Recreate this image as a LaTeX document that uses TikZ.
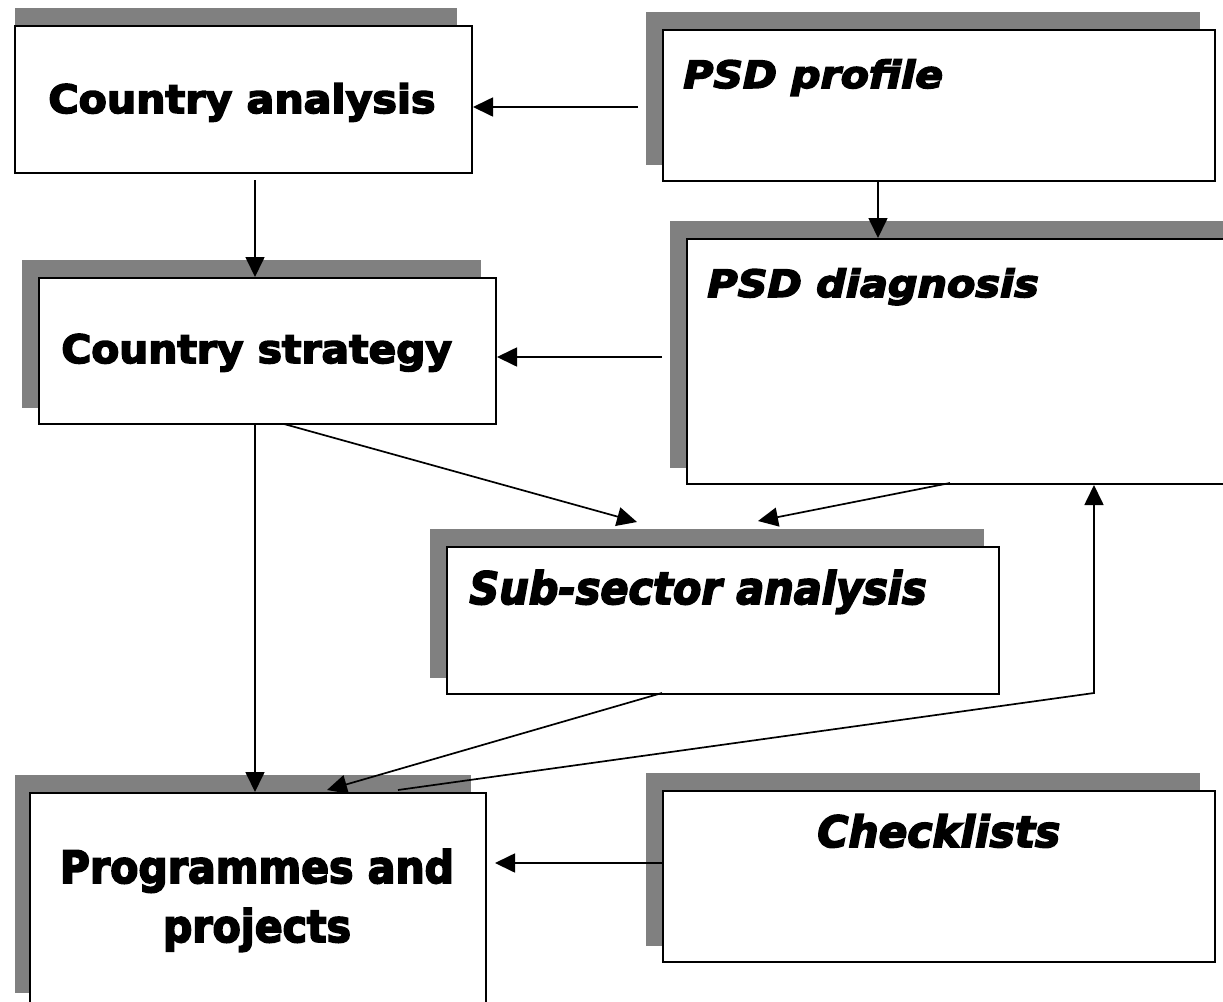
\documentclass[tikz,border=0pt]{standalone}
\usepackage{xcolor}
\usepackage{tikz}
\usepackage{graphicx}
\usepackage{fontspec}
\usetikzlibrary{arrows.meta,backgrounds}
\newfontfamily\heavyfont{DejaVu Sans}[FakeBold=4]
\definecolor{shadowgray}{RGB}{128,128,128}

\begin{document}
\begin{tikzpicture}[x=0.5pt, y=-0.5pt,
  box/.style={draw, fill=white, line width=1pt, inner sep=0, anchor=north west},
  arr/.style={line width=0.85pt, -{Triangle[length=10pt,width=9.5pt]}},
  uptext/.style={inner sep=0, anchor=base west, font=\heavyfont\bfseries\fontsize{19.6}{22}\selectfont},
  slanttext/.style={inner sep=0, anchor=base west, font=\heavyfont\bfseries\itshape\fontsize{18.8}{22}\selectfont},
  largetext/.style={font=\heavyfont\bfseries\fontsize{22.3}{29.5}\selectfont},
  largeslant/.style={font=\heavyfont\bfseries\itshape\fontsize{22.3}{26}\selectfont},
  listslant/.style={font=\heavyfont\bfseries\itshape\fontsize{21.6}{25}\selectfont}]
\useasboundingbox (0,0) rectangle (1223,1002);

% Boxes
\node[box, minimum width=228.5pt, minimum height=73.5pt] (analysis) at (14,25) {};
\node[box, minimum width=276pt, minimum height=75.5pt] (profile) at (662,29) {};
\node[box, minimum width=280pt, minimum height=122.5pt] (diagnosis) at (686,238) {};
\node[box, minimum width=228.5pt, minimum height=73pt] (strategy) at (38,277) {};
\node[box, minimum width=276pt, minimum height=73.5pt] (subsector) at (446,546) {};
\node[box, minimum width=228pt, minimum height=108pt] (programmes) at (29,792) {};
\node[box, minimum width=276pt, minimum height=85.5pt] (checklists) at (662,790) {};

% Shadows
\begin{scope}[on background layer]
\clip (15,0) rectangle (1223,1002);
\foreach \n in {analysis, profile, diagnosis, strategy, subsector, programmes, checklists} {
    \fill[shadowgray] ([shift={(-16,-17)}]\n.south west) rectangle ([shift={(-16,-17)}]\n.north east);
}
\end{scope}

% Labels
\node[uptext] (analysis-txt) at (48,113) {\scalebox{1.05}[1]{Country analysis}};
\node[uptext] (strategy-txt) at (61,363) {\scalebox{1.04}[1]{Country strategy}};
\node[slanttext] (profile-txt) at (683,88) {\scalebox{1.09}[1]{PSD profile}};
\node[slanttext] (diagnosis-txt) at (707,297) {\scalebox{1.1}[1]{PSD diagnosis}};
\node[slanttext, largeslant] (subsector-txt) at (469,604) {\scalebox{0.93}[1]{Sub-sector analysis}};
\node[slanttext, listslant] (checklists-txt) at (817,847) {\scalebox{0.98}[1]{Checklists}};
\node[uptext, largetext, anchor=base, align=center] (programmes-txt) at (257,942)
    {\scalebox{0.92}[1]{Programmes and}\\\scalebox{0.92}[1]{projects}};

% Free ends of the connectors
\coordinate (a1) at (638,107);
\coordinate (b1) at (255,180);
\coordinate (c1) at (878,180);
\coordinate (d1) at (662,357);
\coordinate (e1) at (284,424);
\coordinate (e2) at (637,522);
\coordinate (f1) at (950,483);
\coordinate (f2) at (758,521);
\coordinate (g1) at (255,424);
\coordinate (h1) at (662,693);
\coordinate (h2) at (327,790);
\coordinate (i1) at (398,790);
\coordinate (i2) at (1094,693);
\coordinate (j1) at (662,863);
\coordinate (j2) at (495,863);

% Arrows
\draw[arr] (a1) -- (a1 -| analysis.east);
\draw[arr] (b1) -- (b1 |- strategy.north);
\draw[arr] (c1) -- (c1 |- diagnosis.north);
\draw[arr] (d1) -- (d1 -| strategy.east);
\draw[arr] (e1) -- (e2);
\draw[arr] (f1) -- (f2);
\draw[arr] (g1) -- (g1 |- programmes.north);
\draw[arr] (h1) -- (h2);
\draw[arr] (i1) -- (i2) -- (i2 |- diagnosis.south);
\draw[arr] (j1) -- (j2);
\end{tikzpicture}
\end{document}
